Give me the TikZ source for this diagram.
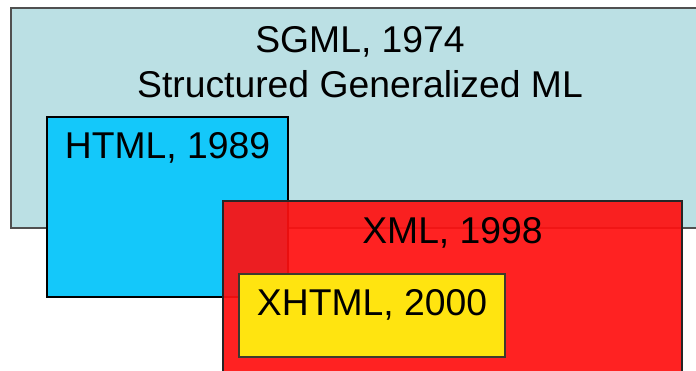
\documentclass[tikz,border=0pt]{standalone}
\usepackage{fontspec}
\setmainfont{Liberation Sans}
\definecolor{sgmlfill}{RGB}{187,224,228}
\definecolor{htmlfill}{RGB}{20,200,250}
\definecolor{xmlfill}{RGB}{255,16,16}
\definecolor{xhtmlfill}{RGB}{255,228,16}
\definecolor{frame}{RGB}{80,80,80}
\begin{document}
\begin{tikzpicture}[x=1pt,y=-1pt,
  area/.style={draw=#1, line width=1.1pt, anchor=north west, inner sep=0pt, outer sep=0pt},
  lbl/.style={font=\fontsize{37.3}{45}\selectfont, text=black, anchor=base, inner sep=0pt}]
\clip (0,0) rectangle (696,370);
\fill[white] (0,0) rectangle (696,370);
% nested language families
\node[area=frame, fill=sgmlfill, minimum width=700pt, minimum height=220pt] (sgml) at (11,8) {};
\node[area=black, fill=htmlfill, minimum width=241pt, minimum height=180pt] (html) at (47,117) {};
\node[area=black!85, fill=xmlfill, fill opacity=0.92, minimum width=459pt, minimum height=190pt] (xml) at (223,201) {};
\node[area=black!75!olive, fill=xhtmlfill, minimum width=266pt, minimum height=83pt] (xhtml) at (239,274) {};
% titles
\node[lbl] (sgmlt) at (360,52) {SGML, 1974};
\node[lbl] (sgmlsub) at (360,97) {Structured Generalized ML};
\node[lbl] (htmlt) at (html.north |- 0,158) {HTML, 1989};
\node[lbl] (xmlt) at (xml.north |- 0,243) {XML, 1998};
\node[lbl] (xhtmlt) at (xhtml.north |- 0,315) {XHTML, 2000};
\end{tikzpicture}
\end{document}
